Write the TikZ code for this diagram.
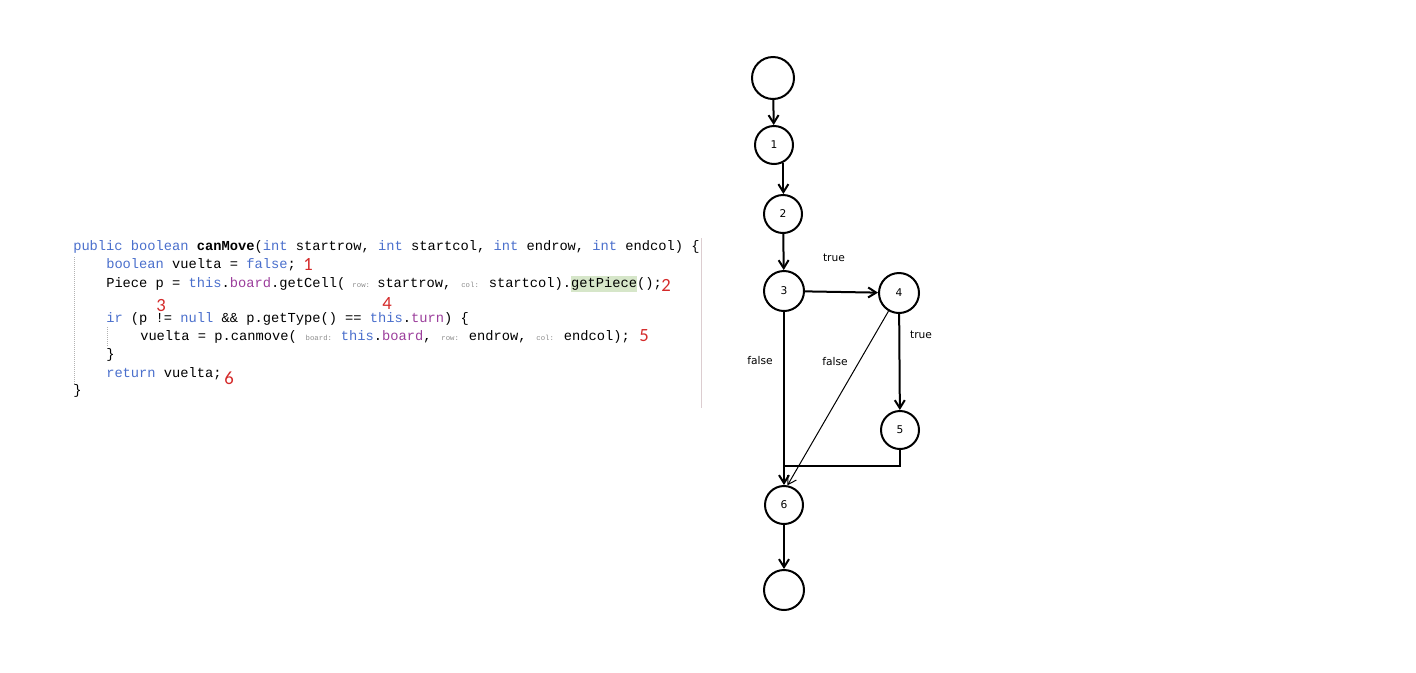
\documentclass[tikz,border=0pt]{standalone}
\usepackage{fontspec}
\usetikzlibrary{arrows.meta}
\newfontfamily\codefont{Liberation Mono}
\newfontfamily\graphfont{DejaVu Sans}
\newfontfamily\notefont{Carlito}
\definecolor{kwblue}{HTML}{4A6FCC}
\definecolor{fldpurple}{HTML}{9B3D9B}
\definecolor{hintgray}{HTML}{8C8C8C}
\definecolor{hlgreen}{HTML}{D6E6C9}
\definecolor{notered}{HTML}{D42A2A}
\definecolor{sepgray}{HTML}{DCCDD0}
\newcommand{\kw}[1]{\textcolor{kwblue}{#1}}
\newcommand{\fld}[1]{\textcolor{fldpurple}{#1}}
\newcommand{\hint}[2][28pt]{\makebox[#1][c]{\fontsize{5.5pt}{6pt}\selectfont\textcolor{hintgray}{#2}}}
\newcommand{\hl}[1]{{\setlength{\fboxsep}{0pt}\colorbox{hlgreen}{\strut#1}}}
\begin{document}
\begin{tikzpicture}[x=0.75pt,y=-0.75pt,>={Straight Barb[length=6pt,width=7.5pt]},
  codeline/.style={anchor=base west,inner sep=0pt,font=\codefont\fontsize{10.3pt}{12pt}\selectfont},
  lineno/.style={inner sep=0pt,text=notered,font=\notefont\fontsize{14pt}{16pt}\selectfont},
  state/.style={circle,draw,line width=1.5pt,minimum size=28.5pt,inner sep=0pt,font=\graphfont\fontsize{8pt}{9pt}\selectfont},
  edgelabel/.style={inner sep=0pt,font=\graphfont\fontsize{8pt}{9pt}\selectfont},
  flow/.style={->,line width=1.5pt},
  guide/.style={densely dotted,gray!60,line width=0.5pt}]
\useasboundingbox (0,0) rectangle (1416,672);
% source code:
\node[codeline] (c1) at (73,250) {\kw{public boolean} \textbf{canMove}(\kw{int} startrow, \kw{int} startcol, \kw{int} endrow, \kw{int} endcol) \{};
\node[codeline] (c2) at (106,268) {\kw{boolean} vuelta = \kw{false};};
\node[codeline] (c3) at (106,287) {Piece p = \kw{this}.\fld{board}.getCell(\hint[24pt]{row:}startrow,\hint{col:}startcol).\hl{getPiece}();};
\node[codeline] (c4) at (106,322) {\kw{ir} (p != \kw{null} \&\& p.getType() == \kw{this}.\fld{turn}) \{};
\node[codeline] (c5) at (140,340) {vuelta = p.canmove(\hint[33pt]{board:}\kw{this}.\fld{board},\hint{row:}endrow,\hint{col:}endcol);};
\node[codeline] (c6) at (106,358) {\}};
\node[codeline] (c7) at (106,377) {\kw{return} vuelta;};
\node[codeline] (c8) at (73,394) {\}};
\draw[guide] (74,257) -- (74,384);
\draw[guide] (107,327) -- (107,347);
\draw[sepgray,line width=0.75pt] (701,238) -- (701,408);
% statement numbers:
\node[lineno] (l1) at (308,264) {1};
\node[lineno] (l2) at (666,285) {2};
\node[lineno] (l3) at (161,305) {3};
\node[lineno] (l4) at (387,303) {4};
\node[lineno] (l5) at (644,336) {5};
\node[lineno] (l6) at (229,378) {6};
% flow graph:
\node[state,minimum size=31.5pt] (start) at (773,78) {};
\node[state] (n1) at (774,145) {1};
\node[state] (n2) at (783,214) {2};
\node[state,minimum size=30pt] (n3) at (784,291) {3};
\node[state,minimum size=30pt] (n4) at (899,293) {4};
\node[state] (n5) at (900,430) {5};
\node[state] (n6) at (784,505) {6};
\node[state,minimum size=30pt] (end) at (784,590) {};
\coordinate (join) at (784,466);
\draw[flow] (start) -- (n1);
\draw[flow] (n1.-62) -- (n1.-62 |- n2.north);
\draw[flow] (n2) -- (n3);
\draw[flow] (n3) -- (n4);
\draw[flow] (n3) -- (n6);
\draw[->,line width=0.75pt] (n4) -- (n6.80);
\draw[flow] (n4) -- (n5);
\draw[line width=1.5pt] (n5) |- (join);
\draw[flow] (n6) -- (end);
\node[edgelabel] (t34) at (834,258) {true};
\node[edgelabel] (f36) at (760,361) {false};
\node[edgelabel] (f46) at (835,362) {false};
\node[edgelabel] (t45) at (921,335) {true};
\end{tikzpicture}
\end{document}
